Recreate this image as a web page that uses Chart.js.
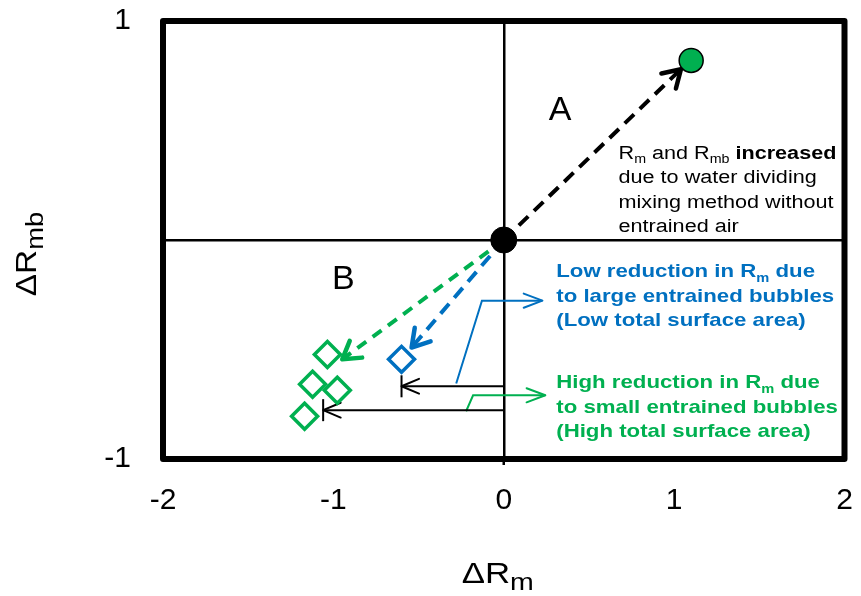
<!DOCTYPE html>
<html>
<head>
<meta charset="utf-8">
<script src="https://cdn.jsdelivr.net/npm/chart.js@4.4.0/dist/chart.umd.min.js"></script>
<style>
  html, body { margin: 0; padding: 0; background: #fff; }
  #wrap { width: 861px; height: 596px; }
</style>
</head>
<body>
<div id="wrap"><canvas id="chart" width="861" height="596"></canvas></div>
<script>
// Ticks des axes
const xTicks = [-2, -1, 0, 1, 2];
const yTicks = [-1, 0, 1];

// Points mesurés
const originPoint = [{ x: 0, y: 0 }];
const noAirPoint = [{ x: 1.10, y: 0.82 }];
const largeBubblePoint = [{ x: -0.60, y: -0.545 }];
const smallBubblePoints = [
    { x: -1.035, y: -0.523 },
    { x: -1.122, y: -0.659 },
    { x: -0.977, y: -0.686 },
    { x: -1.169, y: -0.805 }
];

// Flèches en pointillés (départ -> pointe)
const arrowNoAir = [{ x: 0, y: 0 }, { x: 1.04, y: 0.78 }];
const arrowSmall = [{ x: 0, y: 0 }, { x: -0.948, y: -0.545 }];
const arrowLarge = [{ x: 0, y: 0 }, { x: -0.541, y: -0.491 }];

// Flèches de réduction de Rm
const reductionLarge = [{ x: 0, y: -0.668 }, { x: -0.60, y: -0.668 }];
const reductionSmall = [{ x: 0, y: -0.777 }, { x: -1.06, y: -0.777 }];

// Traits de rappel vers les légendes
const calloutLarge = [{ x: -0.279, y: -0.655 }, { x: -0.128, y: -0.277 }, { x: 0.227, y: -0.277 }];
const calloutSmall = [{ x: -0.221, y: -0.782 }, { x: -0.180, y: -0.709 }, { x: 0.244, y: -0.709 }];

const GREEN = '#00B050';
const BLUE = '#0070C0';
const FONT = '"Liberation Sans", Arial, sans-serif';

// Textes d'annotation
const annotations = [
    { x: 0.331, y: 0.548, size: 34, color: '#000', align: 'center', sx: 1, lines: [[{ t: 'A' }]] },
    { x: -0.942, y: -0.224, size: 34, color: '#000', align: 'center', sx: 1, lines: [[{ t: 'B' }]] },
    { x: 0.674, y: 0.370, size: 18, color: '#000', sx: 1.2, lines: [
        [{ t: 'R' }, { t: 'm', sub: true }, { t: ' and R' }, { t: 'mb', sub: true }, { t: ' ' }, { t: 'increased', bold: true }],
        [{ t: 'due to water dividing' }],
        [{ t: 'mixing method without' }],
        [{ t: 'entrained air' }]
    ] },
    { x: 0.308, y: -0.169, size: 19, color: BLUE, sx: 1.17, bold: true, lines: [
        [{ t: 'Low reduction in R' }, { t: 'm', sub: true }, { t: ' due' }],
        [{ t: 'to large entrained bubbles' }],
        [{ t: '(Low total surface area)' }]
    ] },
    { x: 0.308, y: -0.676, size: 19, color: GREEN, sx: 1.17, bold: true, lines: [
        [{ t: 'High reduction in R' }, { t: 'm', sub: true }, { t: ' due' }],
        [{ t: 'to small entrained bubbles' }],
        [{ t: '(High total surface area)' }]
    ] }
];

function runFont(r, size, bold, subRatio) {
    const s = r.sub ? size * subRatio : size;
    return ((bold || r.bold) ? 'bold ' : '') + s + 'px ' + FONT;
}

function measureRuns(ctx, runs, size, bold, subRatio) {
    let w = 0;
    runs.forEach(r => {
        ctx.font = runFont(r, size, bold, subRatio);
        w += ctx.measureText(r.t).width;
    });
    return w;
}

function drawRuns(ctx, runs, x, y, size, color, sx, bold, align, subRatio) {
    subRatio = subRatio || 0.66;
    ctx.save();
    ctx.translate(x, y);
    ctx.scale(sx, 1);
    let cx = 0;
    if (align === 'center') cx = -measureRuns(ctx, runs, size, bold, subRatio) / 2;
    ctx.fillStyle = color;
    ctx.textBaseline = 'alphabetic';
    ctx.textAlign = 'left';
    runs.forEach(r => {
        ctx.font = runFont(r, size, bold, subRatio);
        ctx.fillText(r.t, cx, r.sub ? size * 0.24 : 0);
        cx += ctx.measureText(r.t).width;
    });
    ctx.restore();
}

// Cadre épais du graphique (+ petit tick sous le zéro)
const framePlugin = {
    id: 'frame',
    beforeDatasetsDraw(chart) {
        const a = chart.chartArea;
        const ctx = chart.ctx;
        const x0 = chart.scales.x.getPixelForValue(0);
        ctx.save();
        ctx.strokeStyle = '#000';
        ctx.lineWidth = 2.5;
        ctx.beginPath();
        ctx.moveTo(x0, a.bottom);
        ctx.lineTo(x0, a.bottom + 6);
        ctx.stroke();
        ctx.lineWidth = 6;
        ctx.lineJoin = 'round';
        ctx.strokeRect(a.left, a.top, a.right - a.left, a.bottom - a.top);
        ctx.restore();
    }
};

// Pointes de flèches et barres de fin
const arrowPlugin = {
    id: 'arrows',
    afterDatasetDraw(chart, args) {
        const ds = chart.data.datasets[args.index];
        if (!ds.arrow) return;
        const pts = args.meta.data;
        const tip = pts[pts.length - 1];
        const prev = pts[pts.length - 2];
        const ang = Math.atan2(tip.y - prev.y, tip.x - prev.x);
        const h = ds.arrow;
        const ctx = chart.ctx;
        ctx.save();
        ctx.setLineDash([]);
        ctx.strokeStyle = ds.borderColor;
        ctx.lineWidth = h.width;
        ctx.lineCap = 'round';
        ctx.lineJoin = 'round';
        ctx.beginPath();
        ctx.moveTo(tip.x - h.len * Math.cos(ang - h.spread), tip.y - h.len * Math.sin(ang - h.spread));
        ctx.lineTo(tip.x, tip.y);
        ctx.lineTo(tip.x - h.len * Math.cos(ang + h.spread), tip.y - h.len * Math.sin(ang + h.spread));
        ctx.stroke();
        if (h.bar) {
            ctx.lineCap = 'butt';
            ctx.beginPath();
            ctx.moveTo(tip.x, tip.y - h.bar);
            ctx.lineTo(tip.x, tip.y + h.bar);
            ctx.stroke();
        }
        ctx.restore();
    }
};

// Textes, titres d'axes
const textPlugin = {
    id: 'texts',
    afterDraw(chart) {
        const ctx = chart.ctx;
        const xs = chart.scales.x;
        const ys = chart.scales.y;
        annotations.forEach(a => {
            const px = xs.getPixelForValue(a.x);
            let py = ys.getPixelForValue(a.y);
            a.lines.forEach(line => {
                drawRuns(ctx, line, px, py, a.size, a.color, a.sx, a.bold, a.align);
                py += 24.5;
            });
        });

        // titre axe X
        const xTitle = [{ t: 'ΔR' }, { t: 'm', sub: true }];
        drawRuns(ctx, xTitle, (chart.chartArea.left + chart.chartArea.right) / 2 - 6, 583, 29, '#000', 1.2, false, 'center', 0.82);

        // titre axe Y
        const yTitle = [{ t: 'ΔR' }, { t: 'mb', sub: true }];
        ctx.save();
        ctx.translate(36, 254);
        ctx.rotate(-Math.PI / 2);
        drawRuns(ctx, yTitle, 0, 0, 29, '#000', 1.15, false, 'center', 0.82);
        ctx.restore();
    }
};

function lineDs(data, color, width, dash, arrow) {
    return {
        data: data,
        showLine: true,
        borderColor: color,
        borderWidth: width,
        borderDash: dash,
        pointRadius: 0,
        fill: false,
        order: 1,
        arrow: arrow
    };
}

const datasets = [
    lineDs(arrowNoAir, '#000', 4, [13, 8], { len: 20, spread: 0.55, width: 4.5 }),
    lineDs(arrowSmall, GREEN, 4, [11, 8], { len: 20, spread: 0.55, width: 4.5 }),
    lineDs(arrowLarge, BLUE, 4, [13, 8], { len: 20, spread: 0.55, width: 4.5 }),
    lineDs(reductionLarge, '#000', 2, [], { len: 19, spread: 0.4, width: 2, bar: 11 }),
    lineDs(reductionSmall, '#000', 2, [], { len: 19, spread: 0.4, width: 2, bar: 11 }),
    lineDs(calloutLarge, BLUE, 2, [], { len: 20, spread: 0.36, width: 2 }),
    lineDs(calloutSmall, GREEN, 2, [], { len: 20, spread: 0.36, width: 2 }),
    {
        data: originPoint,
        pointRadius: 13,
        backgroundColor: '#000',
        borderColor: '#000',
        borderWidth: 1,
        order: 0
    },
    {
        data: noAirPoint,
        pointRadius: 12,
        backgroundColor: GREEN,
        borderColor: '#000',
        borderWidth: 1.5,
        order: 0
    },
    {
        data: largeBubblePoint,
        pointStyle: 'rectRot',
        pointRadius: 13,
        backgroundColor: '#fff',
        borderColor: BLUE,
        borderWidth: 3.5,
        order: 0
    },
    {
        data: smallBubblePoints,
        pointStyle: 'rectRot',
        pointRadius: 13,
        backgroundColor: '#fff',
        borderColor: GREEN,
        borderWidth: 3.5,
        order: 0
    }
];

new Chart(document.getElementById('chart'), {
    type: 'scatter',
    data: { datasets: datasets },
    options: {
        responsive: false,
        animation: false,
        events: [],
        layout: { padding: { top: 21, right: 12, left: 0, bottom: 0 } },
        plugins: {
            legend: { display: false },
            tooltip: { enabled: false }
        },
        scales: {
            x: {
                type: 'linear',
                min: -2,
                max: 2,
                afterBuildTicks: function(scale) {
                    scale.ticks = xTicks.map(v => ({ value: v }));
                },
                afterFit: function(scale) {
                    scale.height = 596 - 459;
                },
                border: { display: false },
                grid: {
                    color: ctx => (ctx.tick && ctx.tick.value === 0) ? '#000' : 'rgba(0,0,0,0)',
                    tickColor: 'rgba(0,0,0,0)',
                    lineWidth: 2.5,
                    tickLength: 24
                },
                ticks: {
                    color: '#000',
                    font: { family: FONT, size: 30 },
                    padding: 0,
                    maxRotation: 0
                }
            },
            y: {
                type: 'linear',
                min: -1,
                max: 1,
                afterBuildTicks: function(scale) {
                    scale.ticks = yTicks.map(v => ({ value: v }));
                },
                afterFit: function(scale) {
                    scale.width = 163;
                },
                border: { display: false },
                grid: {
                    color: ctx => (ctx.tick && ctx.tick.value === 0) ? '#000' : 'rgba(0,0,0,0)',
                    tickColor: 'rgba(0,0,0,0)',
                    lineWidth: 2.5,
                    tickLength: 32
                },
                ticks: {
                    color: '#000',
                    font: { family: FONT, size: 30 },
                    padding: 0,
                    callback: v => v === 0 ? '' : String(v)
                }
            }
        }
    },
    plugins: [framePlugin, arrowPlugin, textPlugin]
});
</script>
</body>
</html>
